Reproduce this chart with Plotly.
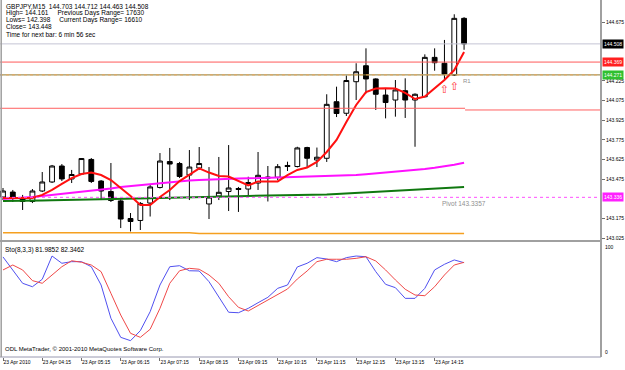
import plotly.graph_objects as go

# ---------------- data ----------------
bar_idx = list(range(48))
opens = [143.338, 143.376, 143.323, 143.304, 143.384, 143.453, 143.575, 143.476, 143.514, 143.625,
         143.460, 143.380, 143.308, 143.174, 143.159, 143.292, 143.411, 143.609, 143.594, 143.506,
         143.560, 143.285, 143.346, 143.380, 143.403, 143.399, 143.445, 143.491, 143.489, 143.579,
         143.571, 143.716, 143.621, 143.634, 144.066, 143.978, 144.219, 144.341, 144.240, 144.117,
         144.079, 144.150, 144.079, 144.104, 144.405, 144.360, 144.270, 144.703]
highs = [143.407, 143.392, 143.354, 143.399, 143.529, 143.583, 143.590, 143.545, 143.636, 143.636,
         143.468, 143.598, 143.323, 143.216, 143.300, 143.430, 143.674, 143.713, 143.606, 143.697,
         143.720, 143.567, 143.644, 143.735, 143.415, 143.493, 143.682, 143.575, 143.590, 143.608,
         143.722, 143.722, 143.716, 144.123, 144.181, 144.266, 144.360, 144.474, 144.245, 144.169,
         144.232, 144.245, 144.130, 144.428, 144.474, 144.538, 144.734, 144.712]
lows = [143.315, 143.300, 143.239, 143.292, 143.376, 143.445, 143.460, 143.445, 143.506, 143.445,
        143.315, 143.300, 143.101, 143.075, 143.086, 143.189, 143.403, 143.315, 143.483, 143.315,
        143.545, 143.170, 143.315, 143.231, 143.224, 143.341, 143.392, 143.304, 143.468, 143.537,
        143.564, 143.567, 143.567, 143.606, 143.949, 143.957, 144.079, 144.130, 144.003, 143.939,
        143.952, 143.942, 143.722, 144.100, 144.303, 144.232, 144.263, 144.463]
closes = [143.384, 143.331, 143.304, 143.384, 143.453, 143.575, 143.476, 143.510, 143.632, 143.457,
          143.384, 143.312, 143.170, 143.151, 143.289, 143.415, 143.613, 143.590, 143.495, 143.567,
          143.594, 143.338, 143.374, 143.407, 143.396, 143.449, 143.504, 143.483, 143.570, 143.571,
          143.713, 143.634, 143.642, 144.046, 143.976, 144.228, 144.295, 144.240, 144.123, 144.060,
          144.156, 144.079, 144.123, 144.405, 144.364, 144.278, 144.703, 144.508]

ema_fast = [143.331, 143.331, 143.327, 143.331, 143.354, 143.392, 143.438, 143.483, 143.514, 143.525,
            143.506, 143.468, 143.407, 143.346, 143.277, 143.277, 143.338, 143.392, 143.460, 143.510,
            143.557, 143.525, 143.499, 143.495, 143.460, 143.426, 143.457, 143.457, 143.457, 143.506,
            143.545, 143.564, 143.606, 143.682, 143.774, 143.911, 144.041, 144.140, 144.167, 144.169,
            144.167, 144.133, 144.087, 144.106, 144.171, 144.232, 144.308, 144.446]
ma_mid = [143.323, 143.327, 143.331, 143.338, 143.346, 143.354, 143.361, 143.369, 143.376, 143.384,
          143.392, 143.403, 143.415, 143.422, 143.430, 143.438, 143.445, 143.453, 143.460, 143.464,
          143.468, 143.472, 143.476, 143.478, 143.480, 143.481, 143.483, 143.485, 143.486, 143.488,
          143.489, 143.491, 143.493, 143.496, 143.499, 143.502, 143.506, 143.512, 143.518, 143.523,
          143.529, 143.537, 143.545, 143.552, 143.561, 143.571, 143.584, 143.600]
ma_slow = [143.308, 143.308, 143.309, 143.311, 143.312, 143.314, 143.315, 143.317, 143.318, 143.320,
           143.321, 143.323, 143.325, 143.326, 143.328, 143.329, 143.331, 143.332, 143.334, 143.337,
           143.338, 143.340, 143.341, 143.343, 143.344, 143.346, 143.347, 143.348, 143.348, 143.349,
           143.350, 143.351, 143.354, 143.357, 143.361, 143.365, 143.369, 143.373, 143.376, 143.380,
           143.384, 143.388, 143.392, 143.396, 143.399, 143.403, 143.409, 143.415]
orange_line = [143.066, 143.066, 143.066, 143.066, 143.066, 143.066, 143.066, 143.066, 143.066, 143.066,
               143.066, 143.066, 143.066, 143.066, 143.066, 143.066, 143.066, 143.066, 143.066, 143.066,
               143.060, 143.060, 143.060, 143.060, 143.060, 143.060, 143.060, 143.060, 143.060, 143.060,
               143.060, 143.060, 143.060, 143.060, 143.060, 143.060, 143.060, 143.060, 143.060, 143.060,
               143.060, 143.060, 143.060, 143.060, 143.060, 143.060, 143.060, 143.060]

stoch_k = [87.0, 75.7, 64.1, 61.1, 67.6, 87.8, 81.5, 82.9, 82.9, 78.5,
           62.6, 33.7, 17.1, 14.2, 22.9, 39.4, 62.6, 78.5, 79.4, 75.0,
           74.8, 65.5, 52.4, 38.9, 38.5, 42.3, 47.2, 51.9, 59.7, 62.6,
           78.3, 81.5, 86.4, 85.2, 82.9, 86.4, 87.8, 87.2, 74.2, 63.2,
           60.3, 51.0, 51.0, 59.7, 75.7, 80.6, 84.4, 81.99]
stoch_d = [75.7, 80.0, 75.7, 66.4, 64.1, 71.3, 78.5, 83.7, 82.4, 80.0,
           74.2, 55.4, 36.5, 20.6, 17.1, 24.1, 42.3, 64.1, 75.0, 77.1,
           76.3, 71.3, 64.1, 52.4, 43.2, 40.0, 44.6, 49.6, 53.9, 59.1,
           67.8, 74.8, 82.9, 85.0, 85.0, 85.0, 85.8, 87.2, 83.5, 75.7,
           67.0, 58.9, 53.9, 53.3, 61.1, 71.3, 80.0, 82.35]

level_r_upper = 144.369
level_r1 = 144.271
level_pivot = 143.3357
level_red_mid = [144.016, 144.003]
signal_idx = [45, 46]
signal_price = [144.156, 144.176]

tick_idx = [0, 4, 8, 12, 16, 20, 24, 28, 32, 36, 40, 44]
tick_labels = ["23 Apr 2010", "23 Apr 04:15", "23 Apr 05:15", "23 Apr 06:15", "23 Apr 07:15",
               "23 Apr 08:15", "23 Apr 09:15", "23 Apr 10:15", "23 Apr 11:15", "23 Apr 12:15",
               "23 Apr 13:15", "23 Apr 14:15"]
# scale ticks that are not hidden under the coloured price boxes
price_ticks = [143.025, 143.175, 143.475, 143.625, 143.775, 143.925,
               144.075, 144.225, 144.675]
header_lines = ["GBPJPY,M15  144.703 144.712 144.463 144.508",
                "High= 144.161     Previous Days Range= 17630",
                "Lows= 142.398     Current Days Range= 16610",
                "Close= 143.448",
                "Time for next bar: 6 min 56 sec"]
stoch_title = "Sto(8,3,3) 81.9852 82.3462"
footer = "ODL MetaTrader, \u00a9 2001-2010 MetaQuotes Software Corp."

# ---------------- layout helpers ----------------
W, H = 625, 370
MT, MB, ML, MR = 0, 13, 0, 24
PH = H - MT - MB


def pyp(p):
    return 1 - p / PH


FONT = "Liberation Sans"
GRID = "#a0a0a0"

fig = go.Figure()

fig.add_trace(go.Candlestick(
    x=bar_idx, open=opens, high=highs, low=lows, close=closes,
    increasing=dict(line=dict(color="black", width=1), fillcolor="white"),
    decreasing=dict(line=dict(color="black", width=1), fillcolor="black"),
    whiskerwidth=0, hoverinfo="skip", xaxis="x", yaxis="y"))

fig.add_trace(go.Scatter(x=bar_idx, y=orange_line, mode="lines",
                         line=dict(color="#f5a020", width=1.5), xaxis="x", yaxis="y"))
fig.add_trace(go.Scatter(x=bar_idx, y=ma_slow, mode="lines",
                         line=dict(color="#107810", width=2), xaxis="x", yaxis="y"))
fig.add_trace(go.Scatter(x=bar_idx, y=ma_mid, mode="lines",
                         line=dict(color="#ff10ff", width=2), xaxis="x", yaxis="y"))
fig.add_trace(go.Scatter(x=bar_idx, y=ema_fast, mode="lines",
                         line=dict(color="#ff1010", width=2), xaxis="x", yaxis="y"))
fig.add_trace(go.Scatter(x=signal_idx, y=signal_price, mode="text", text=["\u21e7"] * len(signal_idx),
                         textfont=dict(color="#ff3030", size=11, family="DejaVu Sans"),
                         xaxis="x", yaxis="y"))

fig.add_trace(go.Scatter(x=bar_idx, y=stoch_k, mode="lines",
                         line=dict(color="#5050f0", width=1), xaxis="x", yaxis="y2"))
fig.add_trace(go.Scatter(x=bar_idx, y=stoch_d, mode="lines",
                         line=dict(color="#f04848", width=1), xaxis="x", yaxis="y2"))

x_rng = [-0.3058, 60.958]
last_x = bar_idx[-1] + 0.1

shapes = [
    dict(type="line", xref="paper", yref="y", x0=0, x1=1, y0=closes[-1], y1=closes[-1],
         line=dict(color="#c4c4d4", width=1)),
    dict(type="line", xref="paper", yref="y", x0=0, x1=1, y0=level_r_upper, y1=level_r_upper,
         line=dict(color="#ff5a5a", width=1)),
    dict(type="line", xref="paper", yref="y", x0=0, x1=1, y0=level_r1, y1=level_r1,
         line=dict(color="#8c7a34", width=1)),
    dict(type="line", xref="paper", yref="y", x0=0, x1=1, y0=level_r1, y1=level_r1,
         line=dict(color="#e8a860", width=1, dash="dot")),
    dict(type="line", xref="x", yref="y", x0=x_rng[0], x1=last_x, y0=level_red_mid[0], y1=level_red_mid[0],
         line=dict(color="#ff6060", width=1)),
    dict(type="line", xref="x", yref="y", x0=last_x, x1=x_rng[1], y0=level_red_mid[1], y1=level_red_mid[1],
         line=dict(color="#ff6060", width=1)),
    dict(type="line", xref="paper", yref="y", x0=0, x1=1, y0=level_pivot, y1=level_pivot,
         line=dict(color="#ff50ff", width=1, dash="dot")),
    # frame
    dict(type="line", xref="paper", yref="paper", x0=0, x1=1, y0=pyp(241), y1=pyp(241),
         line=dict(color=GRID, width=2)),
    dict(type="line", xref="paper", yref="paper", x0=0, x1=1, y0=0, y1=0,
         line=dict(color="#9898b0", width=1)),
    dict(type="line", xref="paper", yref="paper", x0=0.002, x1=0.002, y0=0, y1=1,
         line=dict(color=GRID, width=1.5)),
    dict(type="line", xref="paper", yref="paper", x0=1, x1=1, y0=0, y1=1,
         line=dict(color=GRID, width=2)),
]

annos = []
hdr_y = [6, 13, 20, 27, 34]
for t, yy in zip(header_lines, hdr_y):
    annos.append(dict(xref="paper", yref="paper", x=4 / 601, y=pyp(yy), xanchor="left", yanchor="middle",
                      text=t, showarrow=False, font=dict(family=FONT, size=6.5, color="black")))
annos.append(dict(xref="paper", yref="paper", x=3 / 601, y=pyp(250), xanchor="left", yanchor="middle",
                  text=stoch_title, showarrow=False, font=dict(family=FONT, size=6.5, color="black")))
annos.append(dict(xref="paper", yref="paper", x=3 / 601, y=pyp(349), xanchor="left", yanchor="middle",
                  text=footer, showarrow=False, font=dict(family=FONT, size=6, color="black")))
annos.append(dict(xref="x", yref="y", x=bar_idx[-1] - 0.3, y=level_r1, xanchor="left", yanchor="top",
                  text="R1", showarrow=False, yshift=-1, font=dict(family=FONT, size=6, color="#909090")))
annos.append(dict(xref="x", yref="y", x=44.5, y=level_pivot, xanchor="left", yanchor="top",
                  text="Pivot %.4f" % level_pivot, showarrow=False, yshift=-1,
                  font=dict(family=FONT, size=6.5, color="#909090")))
for val, bg in [(closes[-1], "black"), (level_r_upper, "#ff2020"), (level_r1, "#30c030"),
                (level_pivot, "#ff20ff")]:
    annos.append(dict(xref="paper", yref="y", x=1, y=val, xanchor="left", yanchor="middle",
                      text="%.3f" % val, showarrow=False, xshift=1, bgcolor=bg, borderpad=1,
                      font=dict(family=FONT, size=5, color="white")))
annos.append(dict(xref="paper", yref="y2", x=1, y=100, xanchor="left", yanchor="top", text="100",
                  showarrow=False, xshift=2, font=dict(family=FONT, size=5, color="black")))
annos.append(dict(xref="paper", yref="y2", x=1, y=0, xanchor="left", yanchor="bottom", text="0",
                  showarrow=False, xshift=2, font=dict(family=FONT, size=5, color="black")))

fig.update_layout(
    width=W, height=H, margin=dict(l=ML, r=MR, t=MT, b=MB, pad=0),
    paper_bgcolor="white", plot_bgcolor="white", showlegend=False,
    xaxis=dict(domain=[0, 1], range=x_rng, anchor="y2", tickvals=tick_idx, ticktext=tick_labels,
               ticks="outside", ticklen=3, tickcolor="#707070", ticklabelposition="outside right",
               tickfont=dict(family=FONT, size=5, color="black"), showgrid=False, zeroline=False,
               showline=False, rangeslider=dict(visible=False), fixedrange=True),
    yaxis=dict(domain=[pyp(240), 1], range=[143.0097, 144.8432], side="right", anchor="x",
               tickvals=price_ticks, ticktext=["%.3f" % v for v in price_ticks],
               ticks="outside", ticklen=3, tickcolor="#707070",
               tickfont=dict(family=FONT, size=5, color="black"), showgrid=False, zeroline=False,
               showline=False),
    yaxis2=dict(domain=[0, pyp(242)], range=[0, 100], side="right", anchor="x",
                showticklabels=False, ticks="", showgrid=False, zeroline=False, showline=False),
    shapes=shapes, annotations=annos,
)

fig.write_html("out.html")
